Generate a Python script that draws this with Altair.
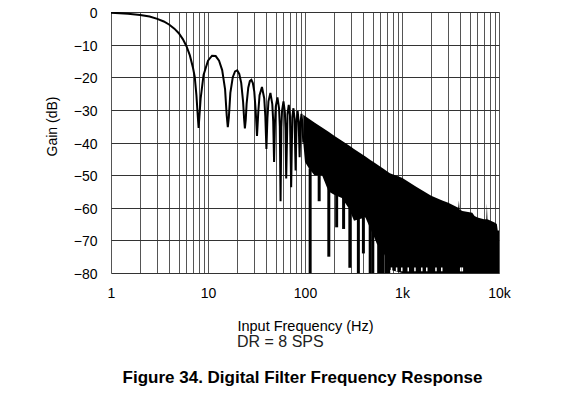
import altair as alt
import pandas as pd

# ---- data ----
# low-frequency part of the response (main lobe and separated side lobes)
lobe_f = [1, 1.5, 2, 2.5, 3, 3.5, 4, 4.5, 5, 5.5, 6, 6.5, 7, 7.3, 7.6, 7.85, 8,
          8.4, 9, 10, 11, 12, 13, 14, 15, 15.6, 16,
          16.4, 17, 18, 19, 20, 21, 22, 23, 23.6, 24,
          24.5, 25, 26, 27, 28, 29, 30, 31, 32,
          33, 34, 36, 38, 39, 40,
          41, 42, 44, 46, 47, 48,
          49, 50, 52, 54, 55, 56,
          57, 58, 60, 62, 63, 64,
          66, 68, 70, 72,
          74, 76, 78, 80,
          82, 84, 86, 88,
          90, 92, 94, 96]
lobe_db = [-0.2, -0.5, -0.9, -1.4, -2.1, -2.9, -3.9, -5.1, -6.5, -8.3, -10.5, -13.3, -17.1, -19.9, -25.6, -32, -35.5,
           -26.5, -19.3, -14.9, -13.4, -13.5, -14.9, -17.8, -23.7, -31.8, -35.3,
           -32.3, -24.8, -20.0, -18.2, -17.9, -19.0, -21.7, -27.5, -33, -35.7,
           -33, -28.2, -23.2, -21.2, -20.8, -21.8, -24.4, -30.1, -38,
           -30.6, -25.5, -23.0, -26.5, -32.0, -42,
           -32.5, -27.4, -24.8, -28.2, -33.5, -46,
           -34.0, -28.9, -26.2, -29.5, -35.0, -58,
           -35.3, -30.2, -27.4, -30.7, -36.2, -51,
           -31.3, -28.5, -31.8, -53.7,
           -32.3, -29.5, -32.7, -48.6,
           -33.1, -30.4, -33.6, -44.5,
           -34.0, -31.2, -34.4, -40]

# dense part: upper envelope and lower edge of the solid black band
band_f = [96, 100, 110, 125, 150, 175, 200, 240, 280, 300, 320, 360, 420, 480, 500,
          550, 650, 700, 750, 1000, 1400, 2000, 2600, 3000, 3500, 3800, 3860, 3920,
          4200, 5300, 5600, 6000, 7000, 7400, 7500, 7600, 8000, 9000, 9500, 9700, 10000]
band_top = [-31.5, -31.9, -32.7, -33.9, -35.4, -36.7, -37.9, -39.5, -40.8, -41.4, -42, -43, -44.3, -45.5, -45.8,
            -46.7, -48.1, -48.8, -49.4, -50.8, -53.6, -56.3, -57.8, -58.5, -59.5, -60, -57.8, -60.5,
            -61, -61.5, -62.5, -63, -63.5, -63.5, -58.7, -63.5, -63.8, -64.5, -65, -67, -67]
band_bottom = [-40, -46, -48, -50, -50, -55, -56, -57, -60, -62, -64, -63.5, -63, -67, -68,
               -71, -74, -76, -79, -80, -80, -80, -80, -80, -80, -80, -80, -80,
               -80, -80, -80, -80, -80, -80, -80, -80, -80, -80, -80, -80, -80]

# deep spikes hanging below the band
spike_f = [113, 140, 176, 212, 250, 290, 355, 400, 470, 500, 575, 610, 640, 690, 730]
spike_top = [-48, -50, -54, -56, -57, -60, -62, -63, -63, -67, -70, -72, -73, -74, -76]
spike_bottom = [-80, -58, -75, -66, -66.5, -78.4, -80, -74, -80, -80, -80, -80, -80, -80, -80]

# small white notches at the bottom of the band
notch_f = [780, 880, 995, 1160, 1360, 1600, 1800, 2240, 2570, 4030, 4190]
notch_top = [-78.3] * len(notch_f)
notch_bottom = [-79.5] * len(notch_f)

x_grid = [m * 10 ** d for d in range(4) for m in range(1, 10)] + [10000]
y_ticks = [0, -10, -20, -30, -40, -50, -60, -70, -80]

lobes = pd.DataFrame({"f": lobe_f, "db": lobe_db})
band = pd.DataFrame({"f": band_f, "top": band_top, "bottom": band_bottom})
spikes = pd.DataFrame({"f": spike_f, "top": spike_top, "bottom": spike_bottom})
notches = pd.DataFrame({"f": notch_f, "top": notch_top, "bottom": notch_bottom})

xaxis = alt.Axis(
    values=x_grid,
    labelExpr="datum.value == 1 ? '1' : datum.value == 10 ? '10' : datum.value == 100 ? '100' : datum.value == 1000 ? '1k' : datum.value == 10000 ? '10k' : ''",
    title="Input Frequency (Hz)",
    grid=True, gridColor="#555", gridWidth=1,
    ticks=False, domain=False,
    labelFontSize=14, labelPadding=13, labelColor="black", labelFlush=False,
    titleFontSize=14.5, titleFontWeight="normal", titleColor="black",
    titleBaseline="middle", titleY=53,
)
yaxis = alt.Axis(
    values=y_ticks,
    labelExpr="datum.value < 0 ? '\u2212' + (-datum.value) : '0'",
    title="Gain (dB)",
    grid=True, gridColor="#333", gridWidth=1,
    ticks=False, domain=False,
    labelFontSize=14, labelPadding=14, labelColor="black", labelOffset=1.5,
    titleFontSize=14, titleFontWeight="normal", titleColor="black",
    titleAngle=270, titleBaseline="middle", titleAlign="center",
    titleX=-59, titleY=114,
)

xs = alt.Scale(type="log", domain=[1, 10000])
ys = alt.Scale(domain=[-80, 0])

band_layer = alt.Chart(band).mark_area(color="black", clip=True).encode(
    x=alt.X("f:Q", scale=xs, axis=xaxis),
    y=alt.Y("top:Q", scale=ys, axis=yaxis),
    y2="bottom:Q",
)
spike_layer = alt.Chart(spikes).mark_rule(color="black", strokeWidth=3, clip=True).encode(
    x=alt.X("f:Q", scale=xs, axis=xaxis),
    y=alt.Y("top:Q", scale=ys, axis=yaxis),
    y2="bottom:Q",
)
notch_layer = alt.Chart(notches).mark_rule(color="white", strokeWidth=1.5, clip=True).encode(
    x=alt.X("f:Q", scale=xs, axis=xaxis),
    y=alt.Y("top:Q", scale=ys, axis=yaxis),
    y2="bottom:Q",
)
line_layer = alt.Chart(lobes).mark_line(color="black", strokeWidth=2, clip=True).encode(
    x=alt.X("f:Q", scale=xs, axis=xaxis),
    y=alt.Y("db:Q", scale=ys, axis=yaxis),
)

note = alt.Chart(pd.DataFrame({"t": ["DR = 8 SPS"]})).mark_text(
    align="left", baseline="middle", fontSize=16, color="#222", font="Liberation Sans"
).encode(x=alt.value(126), y=alt.value(329.5), text="t:N")

caption = alt.Chart(pd.DataFrame({"t": ["Figure 34. Digital Filter Frequency Response"]})).mark_text(
    align="center", baseline="middle", fontSize=17, fontWeight="bold", color="black",
    font="Liberation Sans"
).encode(x=alt.value(191.5), y=alt.value(365.5), text="t:N")

chart = alt.layer(band_layer, spike_layer, notch_layer, line_layer, note, caption).properties(
    width=388, height=261,
    autosize=alt.AutoSizeParams(type="none"),
    padding={"left": 103, "top": 4, "right": 50, "bottom": 115},
).configure_view(
    stroke="black", strokeWidth=2
).configure(
    font="Liberation Sans", background="white"
)

chart.save("out.html", embed_options={"renderer": "svg", "actions": False})
